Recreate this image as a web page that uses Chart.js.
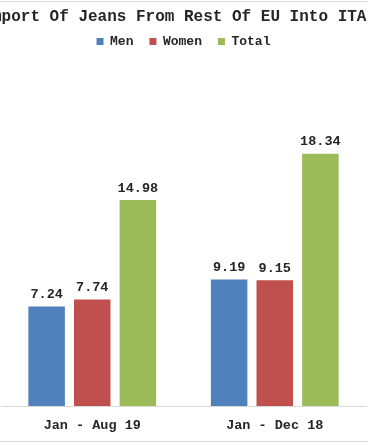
<!DOCTYPE html>
<html>
<head>
<meta charset="utf-8">
<title>Import Of Jeans From Rest Of EU Into ITALY</title>
<script src="https://cdn.jsdelivr.net/npm/chart.js@4/dist/chart.umd.min.js"></script>
<style>
  html, body {
    margin: 0;
    padding: 0;
    width: 368px;
    height: 445px;
    overflow: hidden;
    background: #ffffff;
  }
  /* the original picture is a crop of a wider chart, so the frame runs past the window */
  .chart-frame {
    position: absolute;
    left: -30px;
    top: 1px;
    width: 426px;
    height: 439px;
    border: 1px solid #d9d9d9;
    background: #ffffff;
  }
  .chart-frame canvas {
    display: block;
  }
</style>
</head>
<body>
<div class="chart-frame">
  <canvas id="jeansChart" width="426" height="439"></canvas>
</div>

<script>
// Chart data
const chartTitle = 'Import Of Jeans From Rest Of EU Into ITALY';
const periods = ['Jan - Aug 19', 'Jan - Dec 18'];
const menValues = [7.24, 9.19];
const womenValues = [7.74, 9.15];
const totalValues = [14.98, 18.34];

const fontFamily = "'Liberation Mono', 'Courier New', monospace";
const textColor = '#262626';

// Title is drawn by hand: the built-in one squeezes the text to the box width
const wideTitle = {
  id: 'wideTitle',
  afterDraw(chart) {
    const ctx = chart.ctx;
    ctx.save();
    ctx.font = 'bold 16px ' + fontFamily;
    ctx.fillStyle = textColor;
    ctx.textAlign = 'center';
    ctx.textBaseline = 'middle';
    ctx.fillText(chartTitle, chart.width / 2, 15);
    ctx.restore();
  }
};

// Draw the value above every bar
const valueLabels = {
  id: 'valueLabels',
  afterDatasetsDraw(chart) {
    const ctx = chart.ctx;
    ctx.save();
    ctx.font = 'bold 13.5px ' + fontFamily;
    ctx.fillStyle = textColor;
    ctx.textAlign = 'center';
    ctx.textBaseline = 'bottom';
    chart.data.datasets.forEach((dataset, i) => {
      chart.getDatasetMeta(i).data.forEach((bar, j) => {
        ctx.fillText(dataset.data[j].toFixed(2), bar.x, bar.y - 5);
      });
    });
    ctx.restore();
  }
};

const ctx = document.getElementById('jeansChart').getContext('2d');
const jeansChart = new Chart(ctx, {
  type: 'bar',
  data: {
    labels: periods,
    datasets: [
      { label: 'Men', data: menValues, backgroundColor: '#4F81BD' },
      { label: 'Women', data: womenValues, backgroundColor: '#C0504D' },
      { label: 'Total', data: totalValues, backgroundColor: '#9BBB59' }
    ]
  },
  options: {
    responsive: false,
    animation: false,
    devicePixelRatio: 1,
    categoryPercentage: 0.75,
    barPercentage: 0.8,
    layout: {
      padding: { left: 30, right: 31, top: 17, bottom: 8 }
    },
    plugins: {
      title: { display: false },
      legend: {
        position: 'top',
        labels: {
          color: textColor,
          font: { family: fontFamily, size: 13, weight: 'bold' },
          boxWidth: 7,
          boxHeight: 7,
          padding: 16
        }
      },
      tooltip: { enabled: false }
    },
    scales: {
      x: {
        grid: { display: false, drawTicks: false },
        border: { display: true, color: '#d9d9d9', width: 1 },
        ticks: {
          color: textColor,
          font: { family: fontFamily, size: 13.5, weight: 'bold' },
          padding: 11
        },
        afterFit(scale) {
          scale.height = 27;
        }
      },
      y: {
        display: false,
        min: 0,
        max: 25.3
      }
    }
  },
  plugins: [valueLabels, wideTitle]
});
</script>
</body>
</html>
